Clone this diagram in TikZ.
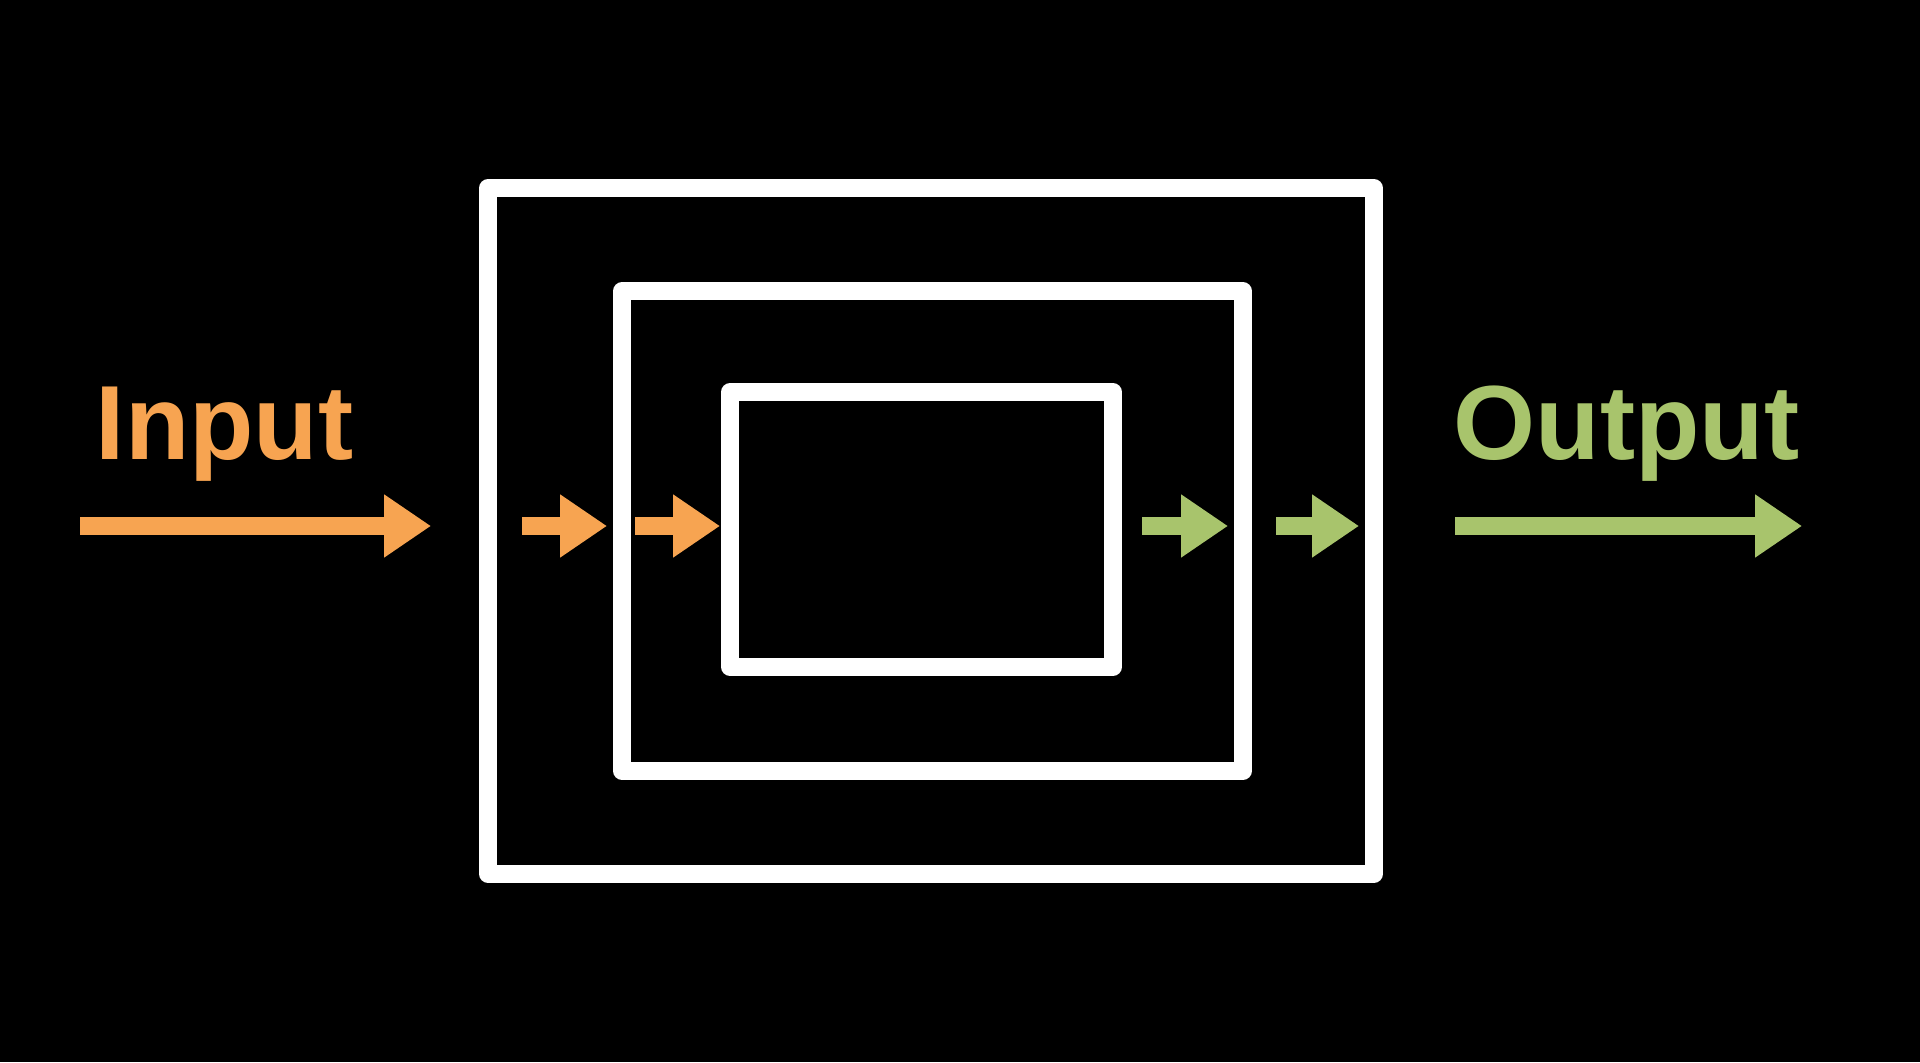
\documentclass[tikz,border=0pt]{standalone}
\usepackage{fontspec}
\setmainfont{Liberation Sans}
\usepackage{xcolor}
\usepackage{tikz}
\usetikzlibrary{arrows.meta, positioning}

\definecolor{inorange}{RGB}{247,164,81}
\definecolor{outgreen}{RGB}{168,196,108}

\begin{document}
\begin{tikzpicture}[
        >={Triangle[length=4.7mm, width=6mm]},
        boxframe/.style={rectangle, draw=white, line width=5pt, line join=round, inner sep=0pt},
        flow/.style={->, line width=5pt},
        tag/.style={font=\bfseries\fontsize{30}{36}\selectfont, inner sep=0pt, anchor=base west}
    ]
        \fill[black] (0,0) rectangle (19.2,10.62);
        \useasboundingbox (0,0) rectangle (19.2,10.62);

        % Nested boxes
        \node[boxframe, minimum width=8.86cm, minimum height=6.86cm] (outer) at (9.31,5.31) {};
        \node[boxframe, minimum width=6.21cm, minimum height=4.80cm] (middle) at (9.325,5.31) {};
        \node[boxframe, minimum width=3.83cm, minimum height=2.75cm] (inner) at (9.215,5.325) {};

        % Arrow ends
        \coordinate (in-a) at (0.80,5.36);
        \coordinate (in-b) at (4.31,5.36);
        \coordinate (in-c) at (5.22,5.36);
        \coordinate (in-d) at (6.07,5.36);
        \coordinate (in-e) at (6.35,5.36);
        \coordinate (in-f) at (7.20,5.36);
        \coordinate (out-a) at (11.42,5.36);
        \coordinate (out-b) at (12.28,5.36);
        \coordinate (out-c) at (12.76,5.36);
        \coordinate (out-d) at (13.59,5.36);
        \coordinate (out-e) at (14.55,5.36);
        \coordinate (out-f) at (18.02,5.36);

        % Flow in
        \draw[flow, inorange] (in-a) -- (in-b);
        \draw[flow, inorange] (in-c) -- (in-d);
        \draw[flow, inorange] (in-e) -- (in-f);

        % Flow out
        \draw[flow, outgreen] (out-a) -- (out-b);
        \draw[flow, outgreen] (out-c) -- (out-d);
        \draw[flow, outgreen] (out-e) -- (out-f);

        \node[tag, inorange] (input) at (0.95,6.02) {Input};
        \node[tag, outgreen] (output) at (14.53,6.02) {Output};

    \end{tikzpicture}
\end{document}
